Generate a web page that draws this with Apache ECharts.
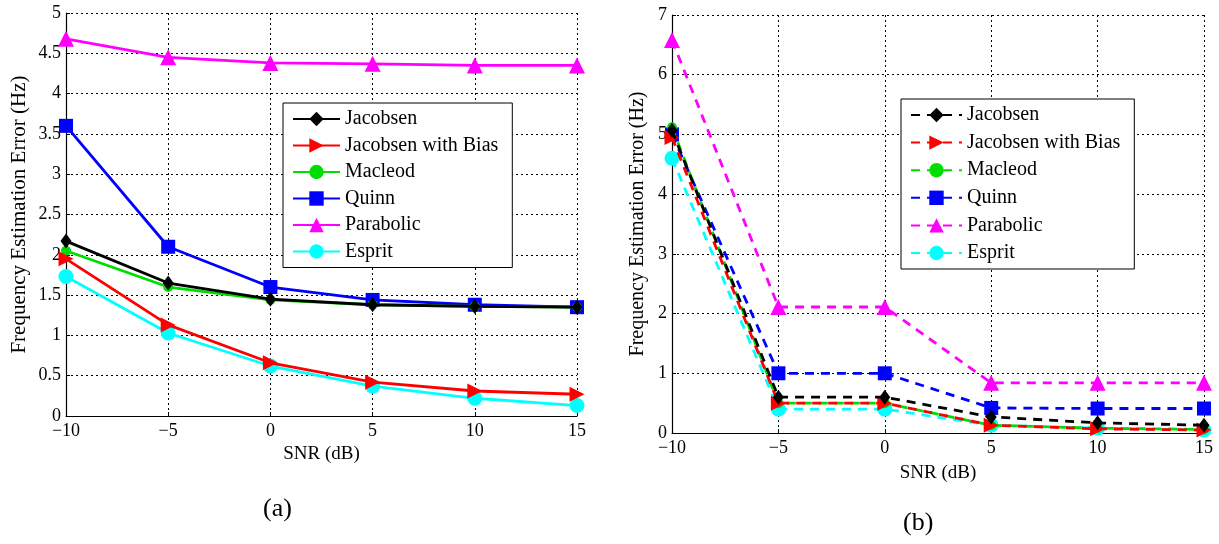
<!DOCTYPE html>
<html>
<head>
<meta charset="utf-8">
<script src="https://cdn.jsdelivr.net/npm/echarts@6/dist/echarts.min.js"></script>
<style>
html, body { margin: 0; padding: 0; background: #fff; }
#main { width: 1219px; height: 544px; }
</style>
</head>
<body>
<div id="main"></div>
<script>
var snr = [-10, -5, 0, 5, 10, 15];
var names = ['Jacobsen', 'Jacobsen with Bias', 'Macleod', 'Quinn', 'Parabolic', 'Esprit'];

// panel (a)
var jacA = [2.17, 1.65, 1.45, 1.38, 1.36, 1.35];
var biasA = [1.95, 1.13, 0.66, 0.42, 0.31, 0.27];
var macA = [2.05, 1.60, 1.44, 1.38, 1.36, 1.35];
var quinnA = [3.60, 2.10, 1.60, 1.44, 1.38, 1.35];
var paraA = [4.68, 4.45, 4.38, 4.37, 4.35, 4.35];
var espA = [1.73, 1.03, 0.62, 0.37, 0.22, 0.13];

// panel (b)
var jacB = [5.07, 0.60, 0.60, 0.27, 0.17, 0.13];
var biasB = [4.95, 0.50, 0.50, 0.13, 0.07, 0.05];
var macB = [5.12, 0.50, 0.50, 0.13, 0.08, 0.06];
var quinnB = [5.00, 1.00, 1.00, 0.42, 0.41, 0.41];
var paraB = [6.58, 2.11, 2.11, 0.84, 0.84, 0.84];
var espB = [4.60, 0.40, 0.40, 0.13, 0.08, 0.05];

var colors = ['#000000', '#ff0000', '#00dd00', '#0000ff', '#ff00ff', '#00ffff'];
var symbols = ['diamond', 'triangle', 'circle', 'rect', 'triangle', 'circle'];
var sizes = [[11, 15], 15, 10, 14, 16, 15];
var rotates = [0, -90, 0, 0, 0, 0];

var font = 'Liberation Serif';

function pairs(v) {
    var out = [];
    for (var i = 0; i < snr.length; i++) out.push([snr[i], v[i]]);
    return out;
}

function makeSeries(list, idx, dashed, suffix) {
    var s = [];
    for (var i = 0; i < list.length; i++) {
        s.push({
            name: names[i] + suffix,
            type: 'line',
            xAxisIndex: idx,
            yAxisIndex: idx,
            data: pairs(list[i]),
            symbol: symbols[i],
            symbolSize: sizes[i],
            symbolRotate: rotates[i],
            showAllSymbol: true,
            color: colors[i],
            lineStyle: { width: 2.8, color: colors[i], type: dashed ? [9, 7] : 'solid' },
            itemStyle: { color: colors[i] },
            animation: false,
            z: 10 - i
        });
    }
    return s;
}

function xAx(idx) {
    return {
        type: 'value', gridIndex: idx, min: -10, max: 15, interval: 5,
        name: 'SNR (dB)', nameLocation: 'middle', nameGap: idx ? 31 : 27,
        nameTextStyle: { fontFamily: font, fontSize: 19, color: '#000' },
        axisLine: { onZero: false, lineStyle: { color: '#000', width: 1.2 } },
        axisTick: { inside: true, length: 4, lineStyle: { color: '#000' } },
        axisLabel: {
            fontFamily: font, fontSize: 18, color: '#000', margin: 6,
            formatter: function (v) { return String(v).replace('-', '\u2212'); }
        },
        splitLine: { show: true, lineStyle: { color: '#000', type: [2, 3], width: 1 } }
    };
}

function yAx(idx, max, step) {
    return {
        type: 'value', gridIndex: idx, min: 0, max: max, interval: step,
        name: 'Frequency Estimation Error (Hz)', nameLocation: 'middle',
        nameGap: idx ? 24 : 36,
        nameTextStyle: { fontFamily: font, fontSize: idx ? 20 : 21, color: '#000' },
        axisLine: { show: true, onZero: false, lineStyle: { color: '#000', width: 1.2 } },
        axisTick: { show: true, inside: true, length: 4, lineStyle: { color: '#000' } },
        axisLabel: { fontFamily: font, fontSize: 18, color: '#000', margin: 5 },
        splitLine: { show: true, lineStyle: { color: '#000', type: [2, 3], width: 1 } }
    };
}

function legendOf(suffix, left, top, w, gap) {
    return {
        data: names.map(function (n) { return n + suffix; }),
        orient: 'vertical',
        left: left, top: top,
        backgroundColor: '#fff',
        borderColor: '#000', borderWidth: 1, borderRadius: 0,
        padding: [6, 14, 6, 9],
        itemWidth: w, itemHeight: 18, itemGap: gap,
        selectedMode: false,
        formatter: function (n) { return n.trim(); },
        textStyle: { fontFamily: font, fontSize: 20, color: '#000' }
    };
}

var chart = echarts.init(document.getElementById('main'));
var option = {
    backgroundColor: '#fff',
    animation: false,
    title: [
        { text: '(a)', left: 258, top: 491, textStyle: { fontFamily: font, fontSize: 26, fontWeight: 'normal', color: '#000' } },
        { text: '(b)', left: 898, top: 505, textStyle: { fontFamily: font, fontSize: 26, fontWeight: 'normal', color: '#000' } }
    ],
    grid: [
        { left: 66, top: 13, width: 511, height: 403 },
        { left: 672, top: 15, width: 532, height: 418 }
    ],
    xAxis: [xAx(0), xAx(1)],
    yAxis: [yAx(0, 5, 0.5), yAx(1, 7, 1)],
    legend: [legendOf('', 283, 103, 47, 6.5), legendOf(' ', 901, 99, 51, 7.6)],
    series: makeSeries([jacA, biasA, macA, quinnA, paraA, espA], 0, false, '')
        .concat(makeSeries([jacB, biasB, macB, quinnB, paraB, espB], 1, true, ' '))
};
chart.setOption(option);
</script>
</body>
</html>
